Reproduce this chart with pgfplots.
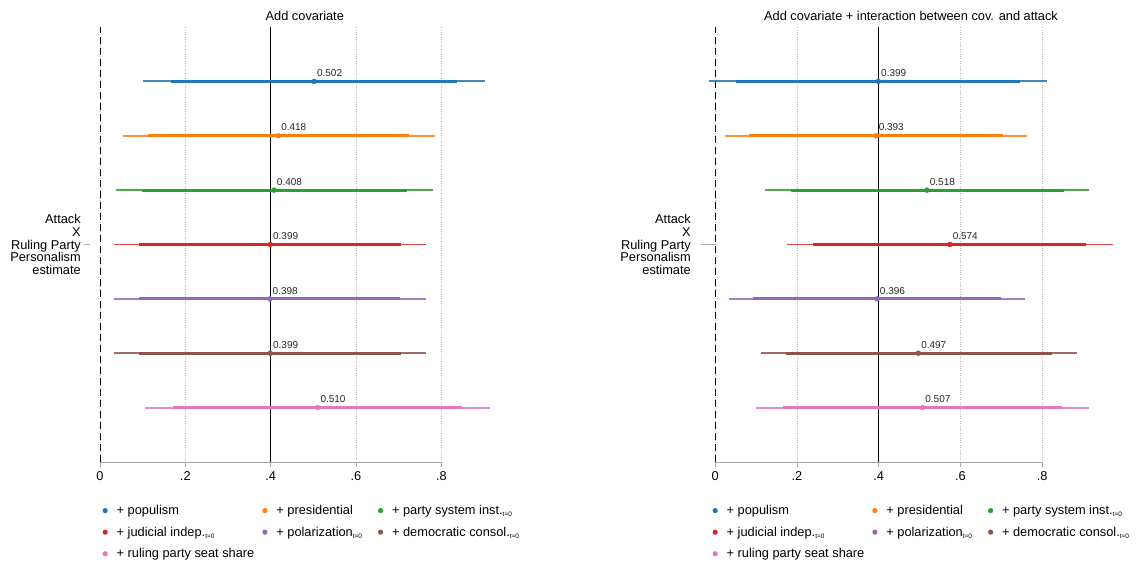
\documentclass[border=0pt]{standalone}
\usepackage{pgfplots}
\pgfplotsset{compat=1.18}
\usepackage{fontspec}
\setmainfont{Liberation Sans}
\definecolor{c1}{HTML}{1F77B4}
\definecolor{c2}{HTML}{FF7F0E}
\definecolor{c3}{HTML}{2CA02C}
\definecolor{c4}{HTML}{D62728}
\definecolor{c5}{HTML}{9467BD}
\definecolor{c6}{HTML}{8C564B}
\definecolor{c7}{HTML}{E377C2}
\newcommand{\sub}[1]{\raisebox{-2.2pt}{\fontsize{6.5}{7}\selectfont #1}}
\newcommand{\fs}{\fontsize{12.8}{12.7}\selectfont}
% color, y, lo95, lo90, est, hi90, hi95
\newcommand{\ci}[7]{%
\addplot[#1, line width=1.8pt, opacity=.85, forget plot] coordinates {(#3,#2) (#7,#2)};
\addplot[#1, line width=3pt, forget plot] coordinates {(#4,#2) (#6,#2)};
\addplot[#1, only marks, mark=*, mark size=2.5pt, forget plot, point meta=x,
  nodes near coords={\pgfmathprintnumber[fixed, fixed zerofill, precision=3, assume math mode=true]{\pgfplotspointmeta}},
  nodes near coords style={anchor=south west, black!85, font=\fontsize{10}{10}\selectfont, inner sep=1pt, xshift=1.7pt, yshift=3.5pt}]
  coordinates {(#5,#2)};
}
\pgfplotsset{
 panel/.style={
  scale only axis, height=435pt, ymin=0, ymax=8, clip=false,
  ytick={4}, yticklabels={{Attack\\X\\Ruling Party\\Personalism\\estimate}},
  ytick style={draw=none},
  yticklabel style={align=right, font=\fs},
  xtick={0,0.2,0.4,0.6,0.8}, xticklabels={0,.2,.4,.6,.8},
  xmajorgrids, grid style={dotted, gray!55, line width=0.6pt},
  axis line style={draw=none},
  tick align=outside, xtick pos=left, major tick length=5pt,
  xtick style={gray!70, line width=0.8pt},
  xticklabel style={font=\fs, yshift=-1.5pt},
  title style={font=\fs, at={(0.5,1)}, anchor=south, inner sep=0pt, yshift=0pt},
  legend columns=3,
  legend cell align=left,
  legend image code/.code={\path[draw=none, fill=none] (0pt,-3pt) rectangle (13pt,3pt); \fill[##1, draw=none] (3.5pt,0pt) circle (2.6pt);},
  legend style={at={(0,0)}, anchor=north west, draw=none, fill=none, inner sep=0pt,
     font=\fs, row sep=6.8pt,
     /tikz/column 2/.style={column sep=5pt},
     /tikz/column 4/.style={column sep=13pt}},
 }
}
\newcommand{\legendentries}{%
\addlegendimage{c1}\addlegendentry{+ populism}
\addlegendimage{c2}\addlegendentry{+ presidential}
\addlegendimage{c3}\addlegendentry{+ party system inst.\sub{t=0}}
\addlegendimage{c4}\addlegendentry{+ judicial indep.\sub{t=0}}
\addlegendimage{c5}\addlegendentry{+ polarization\sub{t=0}}
\addlegendimage{c6}\addlegendentry{+ democratic consol.\sub{t=0}}
\addlegendimage{c7}\addlegendentry{+ ruling party seat share}
}
\begin{document}
\begin{tikzpicture}
\begin{axis}[panel, at={(100pt,100pt)}, anchor=south west, width=409.6pt,
  xmin=0, xmax=0.96, title={Add covariate},
  yticklabel style={xshift=-10.7pt},
  legend style={xshift=1.5pt, yshift=-41pt}]
\legendentries
\draw[gray!70, line width=1pt] (axis cs:0,0) -- (axis cs:0.8,0);
\draw[black, line width=1pt] (axis cs:0.4,0) -- (axis cs:0.4,8);
\draw[black, line width=1pt, dash pattern=on 7pt off 4pt] (axis cs:0,0) -- (axis cs:0,8);
\draw[gray!60, line width=1pt] (rel axis cs:0,0.5) ++(-16pt,0) -- ++(6pt,0);
\ci{c1}{7}{0.1016}{0.166}{0.502}{0.837}{0.902}
\ci{c2}{6}{0.053}{0.1125}{0.418}{0.725}{0.785}
\ci{c3}{5}{0.0367}{0.0977}{0.408}{0.720}{0.7795}
\ci{c4}{4}{0.0336}{0.0922}{0.399}{0.7047}{0.764}
\ci{c5}{3}{0.0328}{0.0914}{0.398}{0.703}{0.763}
\ci{c6}{2}{0.0336}{0.092}{0.399}{0.705}{0.764}
\ci{c7}{1}{0.106}{0.171}{0.510}{0.848}{0.914}
\end{axis}
\begin{axis}[panel, at={(707pt,100pt)}, anchor=south west, width=408pt,
  xmin=-0.02, xmax=0.978, title={Add covariate + interaction between cov. and attack},
  yticklabel style={xshift=-7.7pt},
  legend style={xshift=4.5pt, yshift=-41pt}]
\legendentries
\draw[gray!70, line width=1pt] (axis cs:0,0) -- (axis cs:0.8,0);
\draw[black, line width=1pt] (axis cs:0.4,0) -- (axis cs:0.4,8);
\draw[black, line width=1pt, dash pattern=on 7pt off 4pt] (axis cs:0,0) -- (axis cs:0,8);
\draw[gray!60, line width=1pt] (rel axis cs:0,0.5) ++(-14pt,0) -- ++(7pt,0);
\ci{c1}{7}{-0.0155}{0.052}{0.399}{0.745}{0.812}
\ci{c2}{6}{0.0237}{0.083}{0.393}{0.705}{0.763}
\ci{c3}{5}{0.122}{0.185}{0.518}{0.853}{0.915}
\ci{c4}{4}{0.175}{0.24}{0.574}{0.908}{0.972}
\ci{c5}{3}{0.033}{0.093}{0.396}{0.700}{0.759}
\ci{c6}{2}{0.111}{0.173}{0.497}{0.823}{0.884}
\ci{c7}{1}{0.0987}{0.165}{0.507}{0.849}{0.915}
\end{axis}
\pgfresetboundingbox
\useasboundingbox (0,0) rectangle (1139pt,562pt);
\end{tikzpicture}
\end{document}
